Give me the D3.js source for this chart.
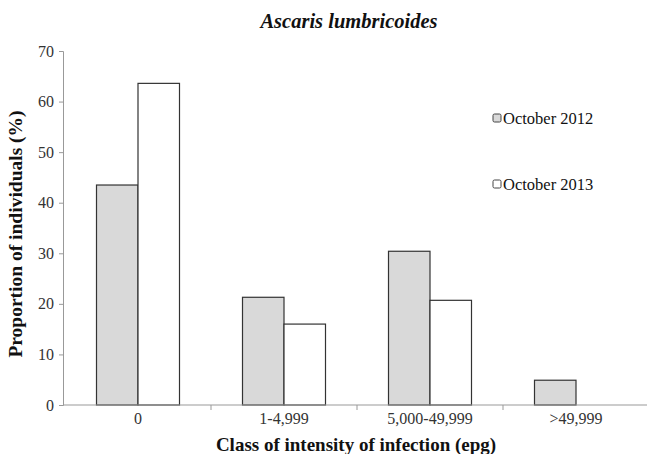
<!DOCTYPE html>
<html>
<head>
<meta charset="utf-8">
<script src="https://cdn.jsdelivr.net/npm/d3@7"></script>
<style>
  body { margin: 0; background: #fff; }
</style>
</head>
<body>
<div id="chart"></div>
<script>
const categories = ["0", "1-4,999", "5,000-49,999", ">49,999"];
const series = ["October 2012", "October 2013"];
const oct2012 = [43.5, 21.3, 30.4, 4.9];
const oct2013 = [63.6, 16.0, 20.7, 0];
const yTicks = [0, 10, 20, 30, 40, 50, 60, 70];

const FONT = "'Liberation Serif', 'Times New Roman', Times, serif";
const width = 647, height = 454;
const margin = { top: 51, right: 0, bottom: 49, left: 63 };

const svg = d3.select("#chart").append("svg")
    .attr("width", width)
    .attr("height", height)
    .attr("font-family", FONT);

const x = d3.scaleBand()
    .domain(categories)
    .range([65, 649]);

const inner = d3.scaleBand()
    .domain(series)
    .range([0, 83]);

const y = d3.scaleLinear()
    .domain([0, 70])
    .range([height - margin.bottom, margin.top]);

const fills = { "October 2012": "#d9d9d9", "October 2013": "#ffffff" };
const values = { "October 2012": oct2012, "October 2013": oct2013 };

// bars
const groups = svg.append("g")
    .selectAll("g")
    .data(categories)
    .enter()
    .append("g")
    .attr("transform", d => `translate(${x(d) + (x.bandwidth() - 83) / 2},0)`);

groups.selectAll("rect")
    .data((d, i) => series.map(s => ({ s: s, v: values[s][i] })).filter(e => e.v > 0))
    .enter()
    .append("rect")
    .attr("x", d => inner(d.s))
    .attr("width", inner.bandwidth())
    .attr("y", d => y(d.v))
    .attr("height", d => y(0) - y(d.v))
    .attr("fill", d => fills[d.s])
    .attr("stroke", "#333")
    .attr("stroke-width", 1.2);

// y axis
const yAxis = svg.append("g")
    .attr("transform", `translate(${margin.left},0)`)
    .call(d3.axisLeft(y).tickValues(yTicks).tickSize(4).tickPadding(5));
yAxis.attr("font-family", FONT);
yAxis.select(".domain").attr("stroke", "#999");
yAxis.selectAll(".tick line").attr("stroke", "#999");
yAxis.selectAll(".tick text").attr("font-size", "16px").attr("fill", "#333");

// x axis
const xAxis = svg.append("g")
    .attr("transform", `translate(0,${y(0)})`);
xAxis.append("line")
    .attr("x1", margin.left).attr("x2", width)
    .attr("stroke", "#999");
xAxis.selectAll("line.sep")
    .data(categories.slice(1))
    .enter()
    .append("line")
    .attr("class", "sep")
    .attr("x1", d => x(d)).attr("x2", d => x(d))
    .attr("y1", 0).attr("y2", 5)
    .attr("stroke", "#999");
xAxis.selectAll("text")
    .data(categories)
    .enter()
    .append("text")
    .attr("x", d => x(d) + x.bandwidth() / 2)
    .attr("y", 19)
    .attr("text-anchor", "middle")
    .attr("font-size", "16px")
    .attr("fill", "#333")
    .text(d => d);

// title
svg.append("text")
    .attr("x", 349)
    .attr("y", 28)
    .attr("text-anchor", "middle")
    .attr("font-size", "20.5px")
    .attr("font-weight", "bold")
    .attr("font-style", "italic")
    .attr("fill", "#111")
    .text("Ascaris lumbricoides");

// axis titles
svg.append("text")
    .attr("x", 356)
    .attr("y", 451)
    .attr("text-anchor", "middle")
    .attr("font-size", "19px")
    .attr("font-weight", "bold")
    .attr("fill", "#111")
    .text("Class of intensity of infection (epg)");

svg.append("text")
    .attr("transform", "translate(22,234) rotate(-90)")
    .attr("text-anchor", "middle")
    .attr("font-size", "19.5px")
    .attr("font-weight", "bold")
    .attr("fill", "#111")
    .text("Proportion of individuals (%)");

// legend
const legend = svg.append("g")
    .selectAll("g")
    .data(series)
    .enter()
    .append("g")
    .attr("transform", (d, i) => `translate(493,${118 + i * 66})`);
legend.append("rect")
    .attr("x", 0).attr("y", -4)
    .attr("width", 8).attr("height", 8)
    .attr("rx", 1.5)
    .attr("fill", d => fills[d])
    .attr("stroke", "#444");
legend.append("text")
    .attr("x", 10).attr("y", 6)
    .attr("font-size", "16.5px")
    .attr("fill", "#111")
    .text(d => d);
</script>
</body>
</html>
